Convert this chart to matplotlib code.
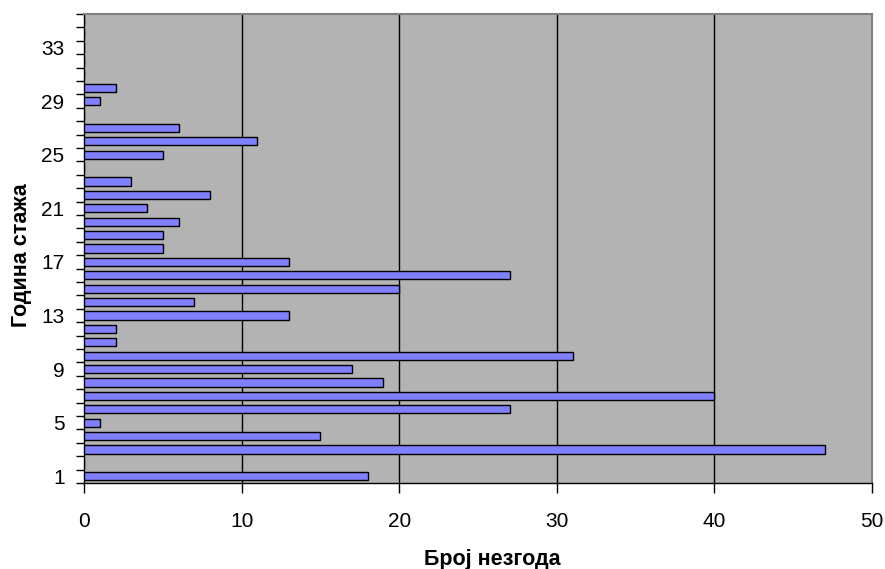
import matplotlib
matplotlib.use("Agg")
import matplotlib.pyplot as plt
import numpy as np

plt.rcParams['font.family'] = ['Liberation Sans', 'DejaVu Sans']

# Years of service and number of accidents per year
years = list(range(1, 36))
accidents = [18, 0, 47, 15, 1, 27, 40, 19, 17, 31,
             2, 2, 13, 7, 20, 27, 13, 5, 5, 6,
             4, 8, 3, 0, 5, 11, 6, 0, 1, 2,
             0, 0, 0, 0, 0]
year_labels = [1, 5, 9, 13, 17, 21, 25, 29, 33]
x_ticks = [0, 10, 20, 30, 40, 50]

fig = plt.figure(figsize=(8.85, 5.69), dpi=100)
ax = fig.add_axes([84 / 885, 1 - 483 / 569, (872 - 84) / 885, (483 - 14) / 569])
ax.set_facecolor('#b3b3b3')

ax.barh(years, accidents, height=0.6, color='#8080ff', edgecolor='black',
        linewidth=1.0, zorder=3)

ax.set_xlim(0, 50)
ax.set_ylim(0.5, len(years) + 0.5)

# vertical gridlines
for v in x_ticks[1:-1]:
    ax.axvline(v, color='black', linewidth=1.0, zorder=1)

ax.set_xticks(x_ticks)
ax.set_xticklabels([str(v) for v in x_ticks], fontsize=15)
ax.tick_params(axis='x', direction='out', length=7, width=1, pad=14, colors='black')

# y: tick marks on category boundaries, labels centred on categories
ax.set_yticks(np.arange(0.5, len(years) + 1, 1.0))
ax.set_yticklabels([])
ax.tick_params(axis='y', which='major', direction='out', length=6, width=1)
ax.set_yticks(year_labels, minor=True)
ax.set_yticklabels([str(v) for v in year_labels], minor=True, fontsize=15)
ax.tick_params(axis='y', which='minor', length=0, pad=14)

for side in ['left', 'bottom']:
    ax.spines[side].set_color('black')
    ax.spines[side].set_linewidth(1.0)
for side in ['top', 'right']:
    ax.spines[side].set_color('#808080')
    ax.spines[side].set_linewidth(1.5)

fig.text(492 / 885, 1 - 565 / 569, 'Број незгода', fontsize=15.5, fontweight='bold',
         ha='center', va='baseline')
fig.text(22 / 885, 1 - 255 / 569, 'Година стажа', fontsize=15.5, fontweight='bold',
         ha='center', va='center', rotation=90)

fig.savefig('out.png', dpi=100)
